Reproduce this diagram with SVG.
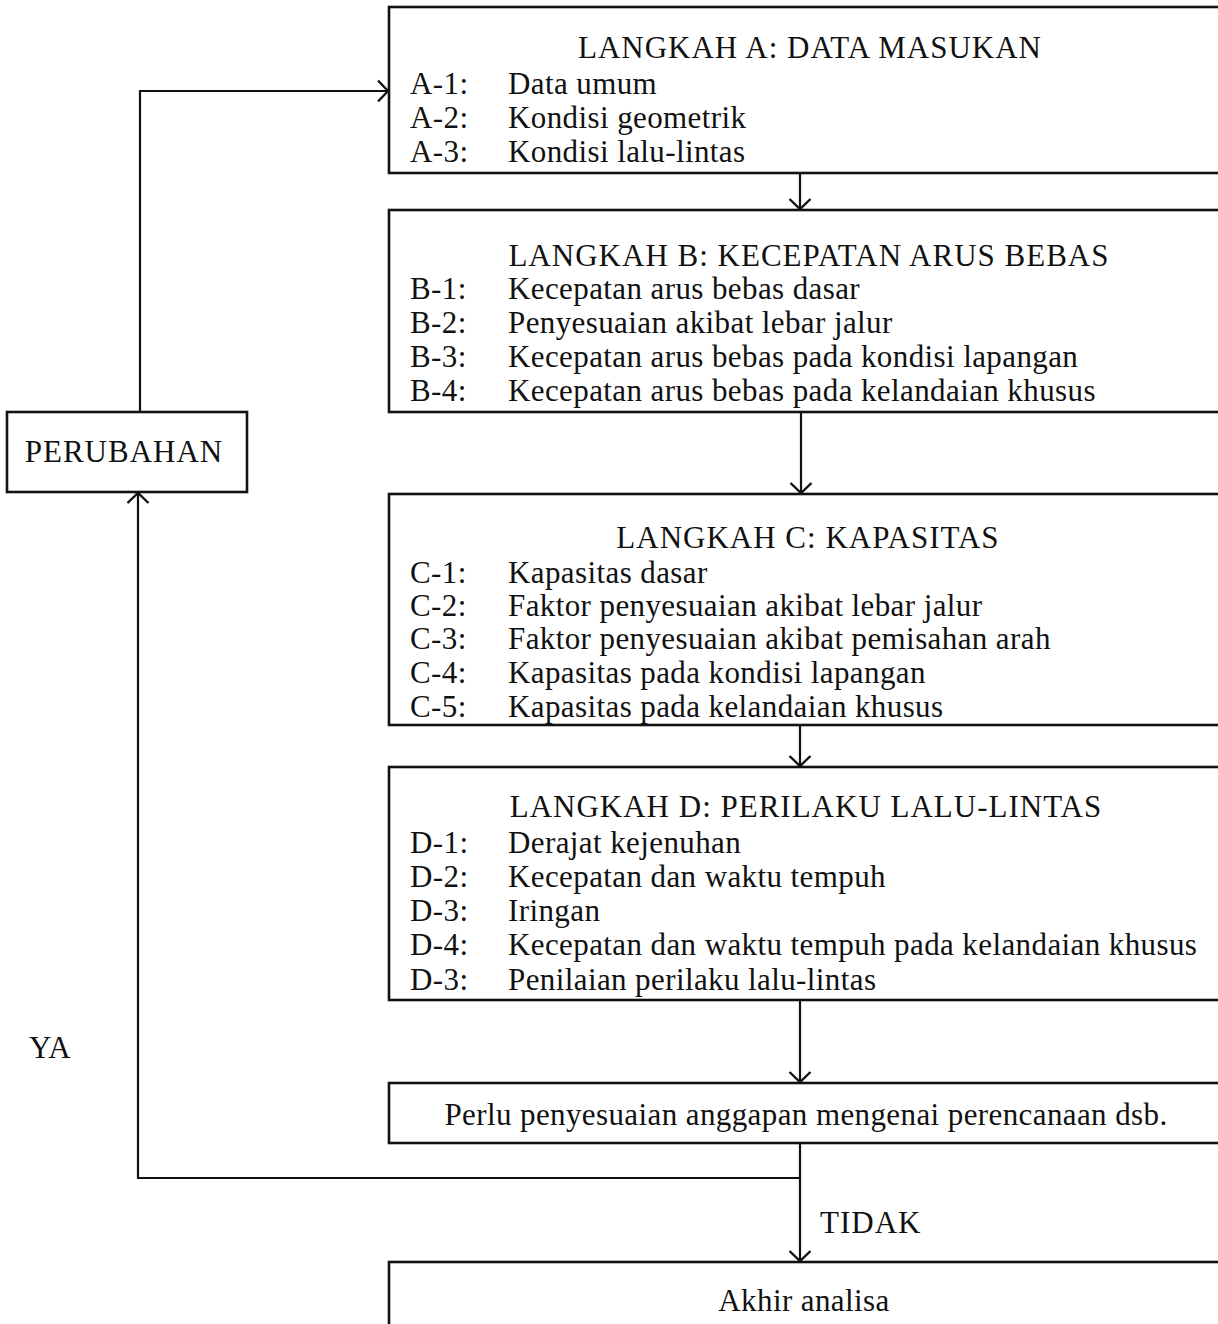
<svg xmlns="http://www.w3.org/2000/svg" width="1218" height="1324" viewBox="0 0 1218 1324">
  <style>
    .box { fill: #ffffff; stroke: #111111; stroke-width: 2.6; }
    .t { font-family: "Liberation Serif", "Times New Roman", serif; font-size: 31px; letter-spacing: 0.4px; fill: #111111; }
    .h { letter-spacing: 1px; }
    .c { text-anchor: middle; }
    .wire { fill: none; stroke: #111111; stroke-width: 2.2; }
  </style>
  <defs>
    <marker id="arrow" viewBox="-12 -12 14 24" markerWidth="14" markerHeight="24" refX="0" refY="0" orient="auto" markerUnits="userSpaceOnUse">
      <path d="M-10,-10.5 L0,0 L-10,10.5" fill="none" stroke="#111111" stroke-width="2.4"/>
    </marker>
  </defs>
  <rect width="1218" height="1324" fill="#ffffff"/>

  <!-- connectors -->
  <g id="connectors">
    <line class="wire" x1="800" y1="173" x2="800" y2="209" marker-end="url(#arrow)"/>
    <line class="wire" x1="801" y1="412" x2="801" y2="493" marker-end="url(#arrow)"/>
    <line class="wire" x1="800" y1="725" x2="800" y2="766" marker-end="url(#arrow)"/>
    <line class="wire" x1="800" y1="1000" x2="800" y2="1082" marker-end="url(#arrow)"/>
    <line class="wire" x1="800" y1="1143" x2="800" y2="1261" marker-end="url(#arrow)"/>
    <polyline class="wire" points="800,1178 138,1178 138,493" marker-end="url(#arrow)"/>
    <polyline class="wire" points="140,412 140,91 388,91" marker-end="url(#arrow)"/>
  </g>

  <!-- step A -->
  <g id="step-a">
    <rect class="box" x="389" y="7" width="850" height="166"/>
    <text class="t h c" x="810" y="58">LANGKAH A: DATA MASUKAN</text>
    <text class="t" x="410" y="94">A-1:</text><text class="t" x="508" y="94">Data umum</text>
    <text class="t" x="410" y="128">A-2:</text><text class="t" x="508" y="128">Kondisi geometrik</text>
    <text class="t" x="410" y="162">A-3:</text><text class="t" x="508" y="162">Kondisi lalu-lintas</text>
  </g>

  <!-- step B -->
  <g id="step-b">
    <rect class="box" x="389" y="210" width="850" height="202"/>
    <text class="t h c" x="809" y="266">LANGKAH B: KECEPATAN ARUS BEBAS</text>
    <text class="t" x="410" y="299">B-1:</text><text class="t" x="508" y="299">Kecepatan arus bebas dasar</text>
    <text class="t" x="410" y="333">B-2:</text><text class="t" x="508" y="333">Penyesuaian akibat lebar jalur</text>
    <text class="t" x="410" y="367">B-3:</text><text class="t" x="508" y="367">Kecepatan arus bebas pada kondisi lapangan</text>
    <text class="t" x="410" y="401">B-4:</text><text class="t" x="508" y="401">Kecepatan arus bebas pada kelandaian khusus</text>
  </g>

  <!-- step C -->
  <g id="step-c">
    <rect class="box" x="389" y="494" width="850" height="231"/>
    <text class="t h c" x="808" y="548">LANGKAH C: KAPASITAS</text>
    <text class="t" x="410" y="583">C-1:</text><text class="t" x="508" y="583">Kapasitas dasar</text>
    <text class="t" x="410" y="616">C-2:</text><text class="t" x="508" y="616">Faktor penyesuaian akibat lebar jalur</text>
    <text class="t" x="410" y="649">C-3:</text><text class="t" x="508" y="649">Faktor penyesuaian akibat pemisahan arah</text>
    <text class="t" x="410" y="683">C-4:</text><text class="t" x="508" y="683">Kapasitas pada kondisi lapangan</text>
    <text class="t" x="410" y="717">C-5:</text><text class="t" x="508" y="717">Kapasitas pada kelandaian khusus</text>
  </g>

  <!-- step D -->
  <g id="step-d">
    <rect class="box" x="389" y="767" width="850" height="233"/>
    <text class="t h c" x="806" y="817">LANGKAH D: PERILAKU LALU-LINTAS</text>
    <text class="t" x="410" y="853">D-1:</text><text class="t" x="508" y="853">Derajat kejenuhan</text>
    <text class="t" x="410" y="887">D-2:</text><text class="t" x="508" y="887">Kecepatan dan waktu tempuh</text>
    <text class="t" x="410" y="921">D-3:</text><text class="t" x="508" y="921">Iringan</text>
    <text class="t" x="410" y="955">D-4:</text><text class="t" x="508" y="955">Kecepatan dan waktu tempuh pada kelandaian khusus</text>
    <text class="t" x="410" y="990">D-3:</text><text class="t" x="508" y="990">Penilaian perilaku lalu-lintas</text>
  </g>

  <!-- decision -->
  <g id="decision">
    <rect class="box" x="389" y="1083" width="850" height="60"/>
    <text class="t c" x="806" y="1125">Perlu penyesuaian anggapan mengenai perencanaan dsb.</text>
  </g>

  <!-- end -->
  <g id="end">
    <rect class="box" x="389" y="1262" width="850" height="90"/>
    <text class="t c" x="804" y="1311">Akhir analisa</text>
  </g>

  <!-- change -->
  <g id="perubahan">
    <rect class="box" x="7" y="412" width="240" height="80"/>
    <text class="t h c" x="124" y="462">PERUBAHAN</text>
  </g>

  <!-- branch labels -->
  <g id="labels">
    <text class="t" x="29" y="1058">YA</text>
    <text class="t h" x="820" y="1233">TIDAK</text>
  </g>
</svg>
